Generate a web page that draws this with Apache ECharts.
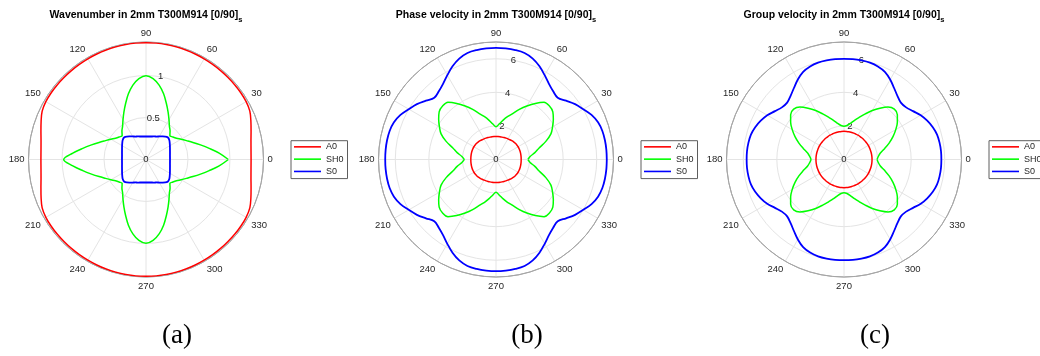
<!DOCTYPE html>
<html>
<head>
<meta charset="utf-8">
<script src="https://cdn.jsdelivr.net/npm/echarts@6/dist/echarts.min.js"></script>
<style>
  html, body { margin: 0; padding: 0; background: #ffffff; }
  #chart { width: 1040px; height: 356px; }
</style>
</head>
<body>
<div id="chart"></div>
<script>
// Propagation direction (degrees) over one quadrant; the laminate is [0/90]s,
// so each curve is mirrored about the 0 and 90 degree axes.
const quadrantAngles = [0, 5, 10, 15, 20, 25, 30, 35, 40, 45, 50, 55, 60, 65, 70, 75, 80, 85, 90];

// (a) wavenumber
const wavenumberA0  = [1.252, 1.256, 1.27, 1.296, 1.33, 1.365, 1.378, 1.381, 1.382, 1.382, 1.383, 1.384, 1.385, 1.387, 1.389, 1.39, 1.391, 1.392, 1.392];
const wavenumberSH0 = [0.981, 0.875, 0.765, 0.672, 0.595, 0.532, 0.483, 0.443, 0.418, 0.402, 0.446, 0.486, 0.548, 0.623, 0.71, 0.81, 0.90, 0.968, 0.999];
const wavenumberS0  = [0.286, 0.287, 0.29, 0.296, 0.304, 0.315, 0.329, 0.345, 0.362, 0.37, 0.357, 0.335, 0.317, 0.302, 0.292, 0.284, 0.278, 0.275, 0.274];

// (b) phase velocity
const phaseA0  = [1.50, 1.502, 1.506, 1.511, 1.516, 1.52, 1.52, 1.515, 1.503, 1.485, 1.463, 1.44, 1.42, 1.403, 1.39, 1.38, 1.374, 1.371, 1.37];
const phaseSH0 = [1.9, 2.04, 2.35, 2.66, 3.16, 3.61, 3.89, 4.17, 4.42, 4.5, 4.45, 4.08, 3.68, 3.29, 2.91, 2.64, 2.37, 2.12, 1.95];
const phaseS0  = [6.6, 6.6, 6.59, 6.56, 6.47, 6.28, 6.0, 5.75, 5.45, 5.2, 5.3, 5.5, 5.8, 6.13, 6.4, 6.57, 6.62, 6.64, 6.65];

// (c) group velocity
const groupA0  = [1.67, 1.67, 1.67, 1.67, 1.67, 1.67, 1.67, 1.67, 1.67, 1.67, 1.67, 1.67, 1.67, 1.67, 1.675, 1.675, 1.68, 1.68, 1.68];
const groupSH0 = [1.97, 2.05, 2.2, 2.5, 2.86, 3.22, 3.56, 3.88, 4.15, 4.24, 4.08, 3.73, 3.37, 3.0, 2.68, 2.42, 2.18, 2.03, 1.98];
const groupS0  = [5.8, 5.8, 5.78, 5.74, 5.63, 5.47, 5.28, 5.02, 4.83, 4.79, 4.95, 5.2, 5.5, 5.76, 5.9, 5.97, 5.99, 6.0, 6.0];

const modeNames = ['A0', 'SH0', 'S0'];
const modeColors = ['#ff0000', '#00ff00', '#0000ff'];

const panelTitles = ['Wavenumber', 'Phase velocity', 'Group velocity'];
const titleSuffix = ' in 2mm T300M914 [0/90]';
const panelLetters = ['(a)', '(b)', '(c)'];
const radiusMax = [1.4, 7, 7];
const radiusStep = [0.5, 2, 2];
const radiusTickLabels = [[0, 0.5, 1], [0, 2, 4, 6], [0, 2, 4, 6]];
const panelSeries = [
  [wavenumberA0, wavenumberSH0, wavenumberS0],
  [phaseA0, phaseSH0, phaseS0],
  [groupA0, groupSH0, groupS0]
];

// layout
const centersX = [146, 496, 844];
const centerY = 159.5;
const plotRadius = 117.5;
const gridColor = '#e4e4e4';
const frameColor = '#a6a6a6';
const tickTextColor = '#262626';
const labelFont = 'Liberation Sans, Arial, Helvetica, sans-serif';

function fullTurn(values) {
  const n = quadrantAngles.length;
  const pts = [];
  for (let i = 0; i < n; i++) pts.push([values[i], quadrantAngles[i]]);
  for (let i = n - 2; i >= 0; i--) pts.push([values[i], 180 - quadrantAngles[i]]);
  for (let i = 1; i < n; i++) pts.push([values[i], 180 + quadrantAngles[i]]);
  for (let i = n - 2; i >= 0; i--) pts.push([values[i], 360 - quadrantAngles[i]]);
  return pts;
}

const polar = [], angleAxis = [], radiusAxis = [], series = [], legend = [], title = [];

centersX.forEach((cx, p) => {
  polar.push({ center: [cx, centerY], radius: plotRadius });

  angleAxis.push({
    polarIndex: p,
    type: 'value', min: 0, max: 360, interval: 30,
    startAngle: 0, clockwise: false,
    axisLine: { show: true, lineStyle: { color: frameColor, width: 1 } },
    axisTick: { show: false },
    axisLabel: { show: true, margin: 4, color: tickTextColor, fontSize: 9.5, fontFamily: labelFont },
    splitLine: { show: true, lineStyle: { color: gridColor, width: 1 } }
  });

  const ringCount = Math.floor(radiusMax[p] / radiusStep[p]) + 1;
  const ringColors = [];
  for (let i = 0; i < ringCount; i++) ringColors.push(gridColor);
  ringColors.push(frameColor);

  radiusAxis.push({
    polarIndex: p,
    type: 'value', min: 0, max: radiusMax[p], interval: radiusStep[p],
    axisLine: { show: false },
    axisTick: { show: false },
    axisLabel: { show: false },
    splitLine: { show: true, lineStyle: { color: ringColors, width: 1 } }
  });

  // radial tick labels along the 80 degree direction
  series.push({
    type: 'scatter', coordinateSystem: 'polar', polarIndex: p,
    symbolSize: 0, silent: true,
    itemStyle: { opacity: 1 },
    data: radiusTickLabels[p].map(v => [v, 80]),
    label: {
      show: true, position: 'inside', color: tickTextColor, opacity: 1,
      textBorderWidth: 0, fontSize: 9.5, fontFamily: labelFont,
      formatter: d => String(d.value[0])
    },
    z: 2
  });

  panelSeries[p].forEach((vals, m) => {
    series.push({
      name: modeNames[m],
      type: 'line', coordinateSystem: 'polar', polarIndex: p,
      data: fullTurn(vals),
      showSymbol: false, symbol: 'none', smooth: 0.35,
      color: modeColors[m],
      lineStyle: { color: modeColors[m], width: m === 2 ? 1.8 : 1.5 },
      z: 3
    });
  });

  legend.push({
    data: modeNames,
    orient: 'vertical',
    left: cx + 145, top: 140.7,
    padding: [0, 4, 1, 3],
    itemGap: 0,
    itemWidth: 27, itemHeight: 1.6,
    icon: 'rect',
    backgroundColor: '#ffffff',
    borderColor: '#5e5e5e', borderWidth: 1,
    textStyle: { color: tickTextColor, fontSize: 9, fontFamily: labelFont, lineHeight: 12.3 },
    selectedMode: false
  });

  title.push({
    text: '{t|' + panelTitles[p] + titleSuffix + '}{s|s}',
    left: cx, top: 8, padding: 0,
    textAlign: 'center',
    textStyle: {
      rich: {
        t: { fontSize: 10.5, fontWeight: 'bold', color: '#000000', fontFamily: labelFont, lineHeight: 14 },
        s: { fontSize: 7.5, fontWeight: 'bold', color: '#000000', fontFamily: labelFont, lineHeight: 14, padding: [10, 0, 0, 0] }
      }
    }
  });

  title.push({
    text: panelLetters[p],
    left: cx + 31, top: 336, padding: 0,
    textAlign: 'center', textVerticalAlign: 'middle',
    textStyle: { fontSize: 27, fontWeight: 'normal', color: '#000000', fontFamily: 'Liberation Serif, Times New Roman, serif' }
  });
});

const chart = echarts.init(document.getElementById('chart'));
chart.setOption({
  animation: false,
  backgroundColor: '#ffffff',
  title, polar, angleAxis, radiusAxis, legend, series
});
</script>
</body>
</html>
